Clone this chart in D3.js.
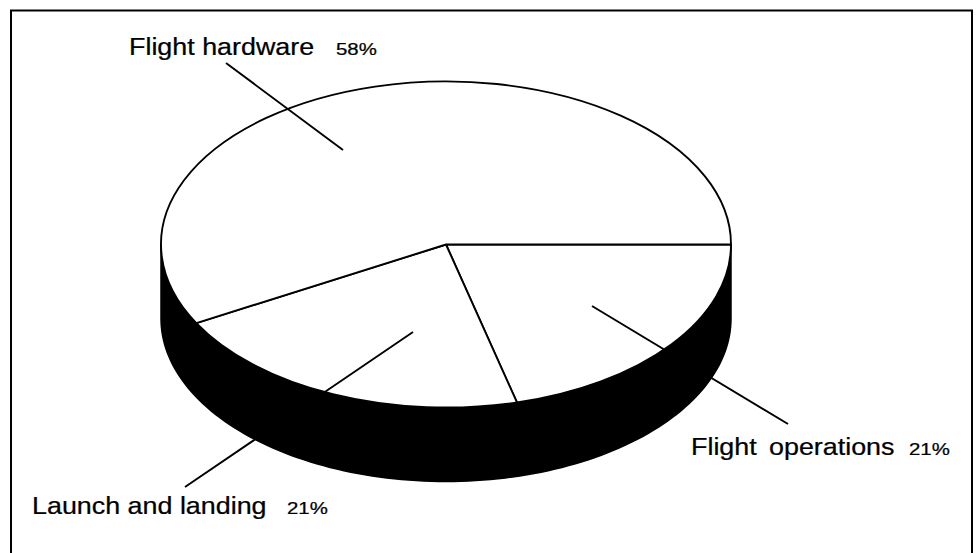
<!DOCTYPE html>
<html>
<head>
<meta charset="utf-8">
<script src="https://cdn.jsdelivr.net/npm/d3@7"></script>
<style>
  html, body { margin: 0; padding: 0; background: #fff; }
  svg { display: block; }
  text { font-family: "Liberation Sans", Arial, Helvetica, sans-serif; fill: #000; stroke: #000; stroke-width: 0.25; }
</style>
</head>
<body>
<svg id="chart" width="976" height="553"></svg>
<script>
// ---- data ----
const categories = ["Flight operations", "Launch and landing", "Flight hardware"];
const values = [21, 21, 58];
const pctLabels = ["21%", "21%", "58%"];

// ---- layout ----
const cx = 446, cy = 244.5, rx = 285, ry = 163, depth = 74;

const svg = d3.select("#chart");

// frame (open at bottom, as in the scan)
svg.append("path")
  .attr("d", "M11,553 V10.5 H972 V553")
  .attr("fill", "none").attr("stroke", "#000").attr("stroke-width", 2);

// pie: start at 3 o'clock, go clockwise on screen
const pie = d3.pie().sort(null).value(d => d)
  .startAngle(Math.PI / 2).endAngle(Math.PI / 2 + 2 * Math.PI);
const arcs = pie(values);

// point on ellipse for d3 angle a (from 12 o'clock, clockwise)
const ex = a => cx + rx * Math.sin(a);
const ey = a => cy - ry * Math.cos(a);

// side wall (front half only): from 3 o'clock to 9 o'clock
const N = 120;
const frontPts = d3.range(N + 1).map(i => Math.PI / 2 + Math.PI * i / N);
const line = d3.line();
const wallPts = frontPts.map(a => [ex(a), ey(a)])
  .concat(frontPts.slice().reverse().map(a => [ex(a), ey(a) + depth]));
svg.append("path").attr("d", line(wallPts) + "Z")
  .attr("fill", "#000").attr("stroke", "#000").attr("stroke-width", 1.5);

// top face slices drawn on a unit circle and scaled to an ellipse
const arcGen = d3.arc().innerRadius(0).outerRadius(1);
const topG = svg.append("g").attr("transform", `translate(${cx},${cy}) scale(${rx},${ry})`);
topG.selectAll("path.slice").data(arcs).join("path")
  .attr("class", "slice")
  .attr("d", arcGen)
  .attr("fill", "#fff")
  .attr("stroke", "#000")
  .attr("stroke-width", 1.9)
  .attr("vector-effect", "non-scaling-stroke")
  .attr("stroke-linejoin", "round");

// leader lines (start inside slice, end near label)
const leaders = [
  { x1: 592, y1: 306, x2: 788, y2: 424 },
  { x1: 413, y1: 332, x2: 185, y2: 487 },
  { x1: 343, y1: 150, x2: 226, y2: 63 }
];
svg.selectAll("line.leader").data(leaders).join("line")
  .attr("class", "leader")
  .attr("x1", d => d.x1).attr("y1", d => d.y1)
  .attr("x2", d => d.x2).attr("y2", d => d.y2)
  .attr("stroke", "#000").attr("stroke-width", 1.9);

// labels
const labelPos = [
  { x: 691, y: 455, px: 909 },
  { x: 32, y: 514, px: 287 },
  { x: 129, y: 55, px: 336 }
];
const xs = 1.12;
categories.forEach((c, i) => {
  const p = labelPos[i];
  const t = svg.append("text")
    .attr("transform", `translate(${p.x},${p.y}) scale(${xs},1)`)
    .attr("font-size", 24);
  if (c === "Flight operations") {
    t.append("tspan").text("Flight");
    t.append("tspan").attr("dx", 11).text("operations");
  } else {
    t.text(c);
  }
  svg.append("text")
    .attr("transform", `translate(${p.px},${p.y}) scale(1.2,1)`)
    .attr("font-size", 17)
    .text(pctLabels[i]);
});
</script>
</body>
</html>
